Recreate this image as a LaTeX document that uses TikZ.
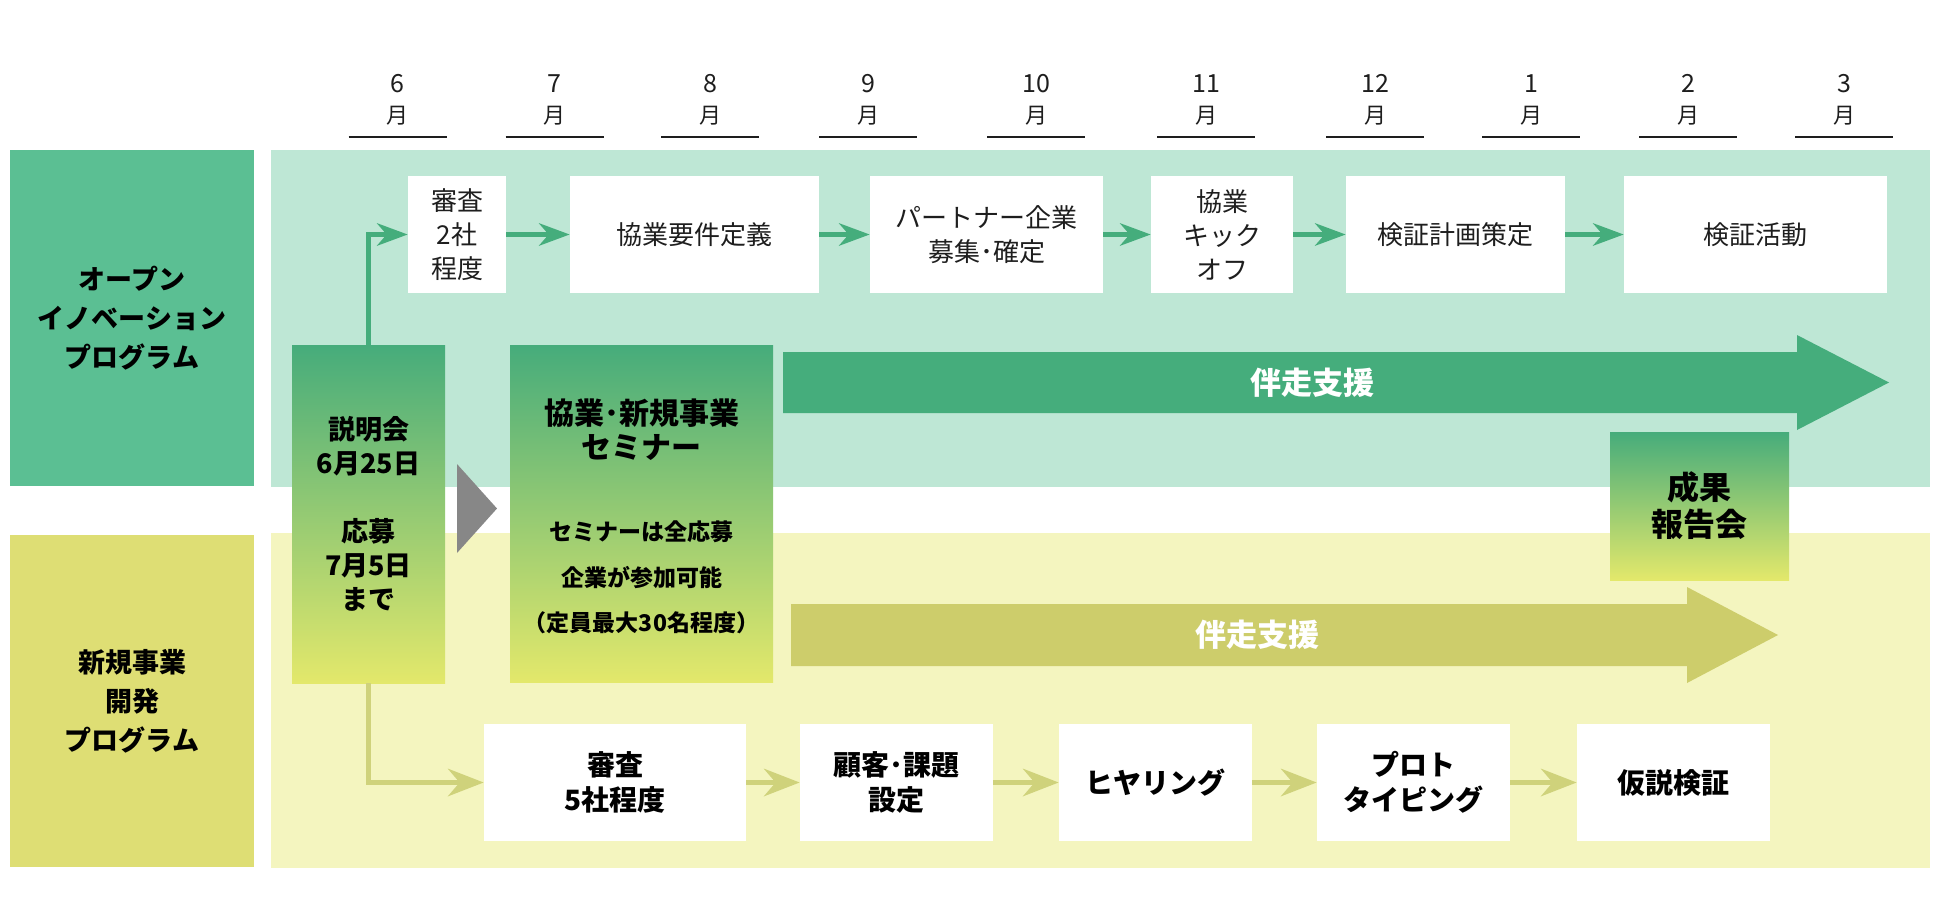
\documentclass[tikz,border=0pt]{standalone}
\usepackage{fontspec}
\setmainfont{Noto Sans CJK JP}
\usetikzlibrary{arrows.meta}
\definecolor{panelG}{HTML}{BEE7D5}
\definecolor{labelG}{HTML}{5BBF93}
\definecolor{arrowG}{HTML}{45AD7C}
\definecolor{panelY}{HTML}{F4F5BF}
\definecolor{labelY}{HTML}{DEDE74}
\definecolor{arrowY}{HTML}{CDCD6B}
\definecolor{connY}{HTML}{CFD27B}
\definecolor{gradTop}{HTML}{46AC7B}
\definecolor{gradBot}{HTML}{E3E86B}
\definecolor{triGray}{HTML}{878787}
\definecolor{txt}{HTML}{1E1E1E}
\newcommand{\mnum}[1]{{\fontsize{12.5}{15.5}\selectfont #1}}
\begin{document}
\begin{tikzpicture}[x=0.5pt,y=-0.5pt,
  month/.style={inner sep=0pt, align=center, text=txt, font=\fontsize{11}{15.5}\selectfont},
  monthline/.style={draw=txt, line width=1.1pt},
  labelbox/.style={inner sep=0pt, align=center, text=black, minimum width=122pt, font=\bfseries\fontsize{13.5}{19.5}\selectfont},
  topbox/.style={fill=white, inner sep=0pt, minimum height=58.5pt, align=center, text=txt, font=\fontsize{13}{17}\selectfont},
  botbox/.style={fill=white, inner sep=0pt, minimum height=58.5pt, align=center, text=black, font=\bfseries\fontsize{14}{17.5}\selectfont},
  gradbox/.style={top color=gradTop, bottom color=gradBot, inner sep=0pt, align=center, text=black},
  gtext/.style={inner sep=0pt, align=center, text=black},
  bigtxt/.style={inner sep=0pt, text=white, font=\bfseries\fontsize{15.5}{18}\selectfont},
  flowG/.style={draw=arrowG, line width=2.5pt, -{Stealth[length=15.5pt,width=11.5pt,inset=5pt,line width=0pt]}},
  flowY/.style={draw=connY, line width=2.8pt, -{Stealth[length=18pt,width=14pt,inset=6pt,line width=0pt]}}
]
\useasboundingbox (0,0) rectangle (1950,916);
\fill[white] (0,0) rectangle (1950,916);

% month headers
\foreach \x/\m in {397.5/6, 554.5/7, 710/8, 868/9, 1036/10, 1206/11, 1375/12, 1531/1, 1688/2, 1844/3} {
  \node[month] (m\m) at (\x,100) {\mnum{\m}\\月};
  \draw[monthline] (\x-49,137) -- (\x+49,137);
}

% panels
\fill[panelG] (271,150) rectangle (1930,487);
\fill[panelY] (271,533) rectangle (1930,868);
\node[labelbox, fill=labelG, minimum height=168pt] (labT) at (132,318) {オープン\\イノベーション\\プログラム};
\node[labelbox, fill=labelY, minimum height=166pt] (labB) at (132,701) {新規事業\\開発\\プログラム};

% big support arrows
\fill[arrowG] (783,352) -- (1797,352) -- (1797,335) -- (1889,382.5) -- (1797,430) -- (1797,413) -- (783,413) -- cycle;
\node[bigtxt] (supT) at (1312,383) {伴走支援};
\fill[arrowY] (791,604) -- (1687,604) -- (1687,587) -- (1778,635) -- (1687,683) -- (1687,666) -- (791,666) -- cycle;
\node[bigtxt] (supB) at (1257,635) {伴走支援};

% top row
\node[topbox, minimum width=49pt] (t1) at (457,234.5) {審査\\2社\\程度};
\node[topbox, minimum width=124.5pt] (t2) at (694.5,234.5) {協業要件定義};
\node[topbox, minimum width=116.5pt] (t3) at (986.5,234.5) {パートナー企業\\募集･確定};
\node[topbox, minimum width=71pt] (t4) at (1222,234.5) {協業\\キック\\オフ};
\node[topbox, minimum width=109.5pt] (t5) at (1455.5,234.5) {検証計画策定};
\node[topbox, minimum width=131.5pt] (t6) at (1755.5,234.5) {検証活動};

% bottom row
\node[botbox, minimum width=131pt] (b1) at (615,782.5) {審査\\5社程度};
\node[botbox, minimum width=96.5pt] (b2) at (896.5,782.5) {顧客･課題\\設定};
\node[botbox, minimum width=96.5pt] (b3) at (1155.5,782.5) {ヒヤリング};
\node[botbox, minimum width=96.5pt] (b4) at (1413.5,782.5) {プロト\\タイピング};
\node[botbox, minimum width=96.5pt] (b5) at (1673.5,782.5) {仮説検証};

% gradient boxes
\node[gradbox, minimum width=76.5pt, minimum height=169pt, font=\bfseries\fontsize{13.5}{17}\selectfont] (g1) at (368.5,514) {説明会\\6月25日\\[17pt]応募\\7月5日\\まで};
\node[gradbox, minimum width=131.5pt, minimum height=168.5pt] (g2) at (641.5,513.5) {};
\node[gtext, font=\bfseries\fontsize{15}{17}\selectfont] (g2t) at (641.5,430) {協業･新規事業\\セミナー};
\node[gtext, font=\bfseries\fontsize{11.5}{22.75}\selectfont] (g2s) at (641.5,577.5) {セミナーは全応募\\企業が参加可能\\（定員最大30名程度）};
\node[gradbox, minimum width=89.5pt, minimum height=74pt, font=\bfseries\fontsize{16}{18.5}\selectfont] (g3) at (1699.5,506) {成果\\報告会};

% gray triangle
\fill[triGray] (457,464) -- (497,508.5) -- (457,553) -- cycle;

% connectors
\draw[flowG] (g1.north) |- (t1.west);
\draw[flowG] (t1.east) -- (t2.west);
\draw[flowG] (t2.east) -- (t3.west);
\draw[flowG] (t3.east) -- (t4.west);
\draw[flowG] (t4.east) -- (t5.west);
\draw[flowG] (t5.east) -- (t6.west);
\draw[flowY] (g1.south) |- (b1.west);
\draw[flowY] (b1.east) -- (b2.west);
\draw[flowY] (b2.east) -- (b3.west);
\draw[flowY] (b3.east) -- (b4.west);
\draw[flowY] (b4.east) -- (b5.west);
\end{tikzpicture}
\end{document}
